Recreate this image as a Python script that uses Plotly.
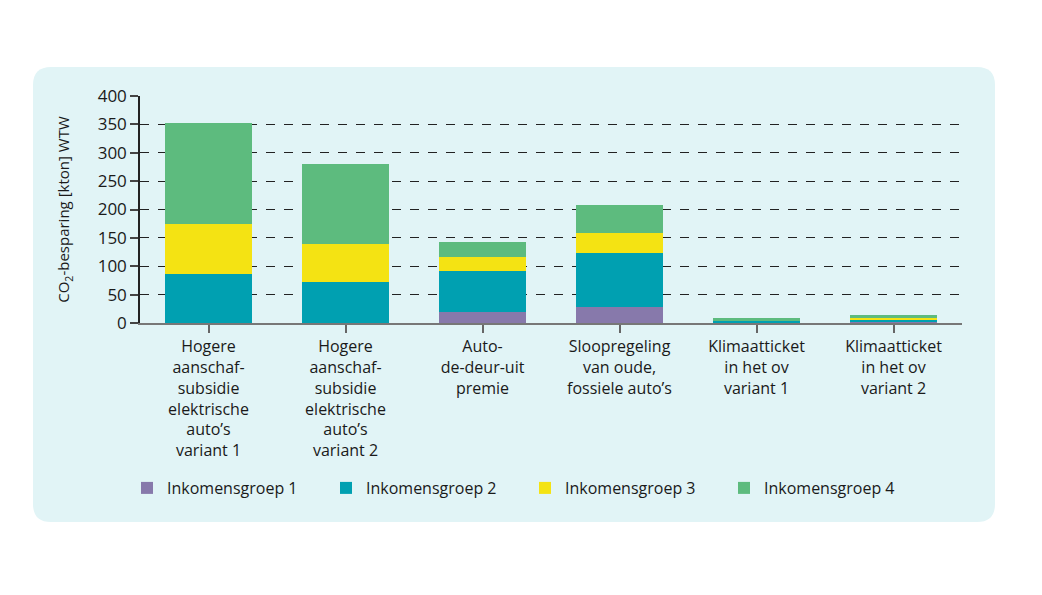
import plotly.graph_objects as go

# data (kton CO2, WTW)
categories = [
    'Hogere<br>aanschaf-<br>subsidie<br>elektrische<br>auto\u2019s<br>variant 1',
    'Hogere<br>aanschaf-<br>subsidie<br>elektrische<br>auto\u2019s<br>variant 2',
    'Auto-<br>de-deur-uit<br>premie',
    'Sloopregeling<br>van oude,<br>fossiele auto\u2019s',
    'Klimaatticket<br>in het ov<br>variant 1',
    'Klimaatticket<br>in het ov<br>variant 2',
]
groep1 = [0, 0, 19, 29, 0.5, 1]
groep2 = [86, 72, 72, 94, 3.5, 5]
groep3 = [88, 68, 26, 35, 0.5, 2.5]
groep4 = [178, 141, 25, 50, 3.5, 5.5]
series_names = ['Inkomensgroep 1', 'Inkomensgroep 2', 'Inkomensgroep 3', 'Inkomensgroep 4']
y_ticks = [0, 50, 100, 150, 200, 250, 300, 350, 400]

colors = ['#8779ab', '#00a0b1', '#f4e313', '#5dbb7e']
bg = '#e1f4f6'

# page body has an 8px margin; positions below are in screen pixels
OFF = 8
W, H = 1042 - 2 * OFF, 595 - 2 * OFF
L, R, T, B = 140 - OFF, 962 - OFF, 96 - OFF, 323 - OFF


def px_x(x):
    return (x - OFF - L) / (R - L)


def px_y(y):
    return (B - (y - OFF)) / (B - T)


fig = go.Figure()
for name, vals, col in zip(series_names, [groep1, groep2, groep3, groep4], colors):
    fig.add_trace(go.Bar(x=categories, y=vals, name=name, marker_color=col,
                         marker_line_width=0))

# rounded light background panel
x0, x1, y0, y1, r = 33, 995, 67, 522, 18
path = (f'M {px_x(x0 + r)},{px_y(y0)} L {px_x(x1 - r)},{px_y(y0)} '
        f'Q {px_x(x1)},{px_y(y0)} {px_x(x1)},{px_y(y0 + r)} '
        f'L {px_x(x1)},{px_y(y1 - r)} Q {px_x(x1)},{px_y(y1)} {px_x(x1 - r)},{px_y(y1)} '
        f'L {px_x(x0 + r)},{px_y(y1)} Q {px_x(x0)},{px_y(y1)} {px_x(x0)},{px_y(y1 - r)} '
        f'L {px_x(x0)},{px_y(y0 + r)} Q {px_x(x0)},{px_y(y0)} {px_x(x0 + r)},{px_y(y0)} Z')
fig.add_shape(type='path', path=path, xref='paper', yref='paper',
              fillcolor=bg, line_width=0, layer='below')

fig.update_layout(
    width=W, height=H,
    margin=dict(l=L, r=W - R, t=T, b=H - B),
    barmode='stack',
    bargap=0.37,
    paper_bgcolor='white',
    plot_bgcolor='rgba(0,0,0,0)',
    font=dict(family='Open Sans', size=16, color='#1a1a1a'),
    showlegend=True,
    legend=dict(orientation='h', x=px_x(127), xanchor='left', y=px_y(488), yanchor='middle',
                entrywidth=154, entrywidthmode='pixels', traceorder='normal',
                font=dict(size=16), bgcolor='rgba(0,0,0,0)', itemwidth=30),
)

fig.update_xaxes(
    showgrid=False, showline=True, linecolor='#777777', linewidth=2,
    ticks='outside', ticklen=8, tickcolor='#666666', tickwidth=2,
    tickangle=0, tickfont=dict(size=16),
)
fig.update_yaxes(
    range=[0, 400], tickvals=y_ticks, showgrid=True, gridcolor='#222222',
    griddash='dash', gridwidth=1, zeroline=False,
    showline=True, linecolor='#222222', linewidth=1.5,
    ticks='outside', ticklen=8, tickcolor='#444444', tickwidth=1.5,
    tickfont=dict(size=17),
    title=dict(text='CO<sub>2</sub>-besparing [kton] WTW', font=dict(size=15), standoff=24),
)

fig.write_html('out.html')
